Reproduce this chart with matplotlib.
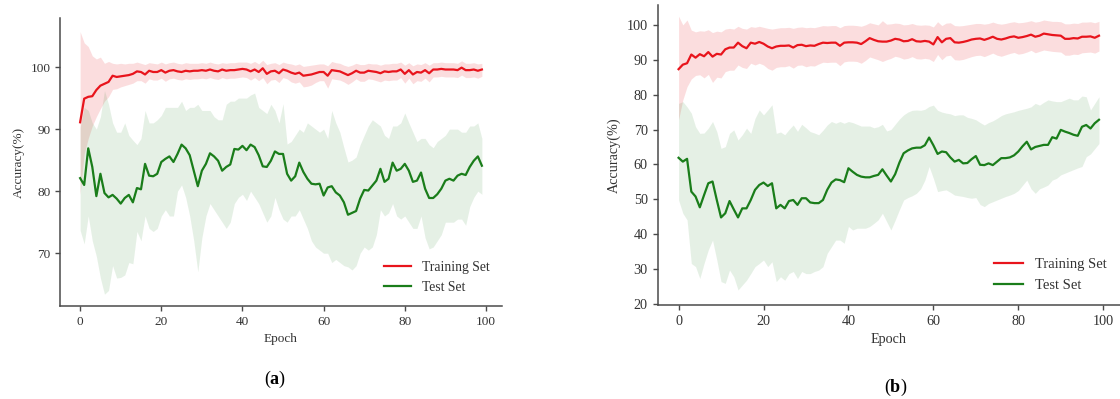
import numpy as np
import matplotlib
matplotlib.use('Agg')
import matplotlib.pyplot as plt

plt.rcParams['font.family'] = ['Liberation Serif', 'DejaVu Serif']
plt.rcParams['mathtext.fontset'] = 'custom'
plt.rcParams['mathtext.rm'] = 'Liberation Serif'
plt.rcParams['mathtext.bf'] = 'Liberation Serif:bold'

epochs = np.arange(100)

# ---- panel (a) ----
train_a = [91.1, 94.9, 95.2, 95.3, 96.3, 97.0, 97.3, 97.6, 98.6, 98.4,
           98.5, 98.6, 98.7, 98.9, 99.3, 99.2, 98.8, 99.4, 99.2, 99.2,
           99.5, 99.1, 99.4, 99.5, 99.3, 99.2, 99.4, 99.3, 99.4, 99.4,
           99.5, 99.4, 99.6, 99.4, 99.3, 99.6, 99.4, 99.5, 99.5, 99.6,
           99.7, 99.6, 99.3, 99.6, 99.2, 99.8, 98.9, 99.3, 99.4, 99.0,
           99.6, 99.4, 99.1, 98.9, 99.1, 98.6, 98.7, 98.8, 99.0, 99.2,
           99.2, 98.6, 99.5, 99.4, 99.3, 99.0, 98.7, 99.0, 99.4, 99.1,
           99.1, 99.4, 99.3, 99.2, 99.0, 99.3, 99.2, 99.3, 99.3, 99.6,
           98.9, 99.5, 98.8, 99.2, 99.1, 99.5, 99.0, 99.6, 99.6, 99.7,
           99.6, 99.6, 99.6, 99.5, 99.9, 99.5, 99.5, 99.6, 99.4, 99.6]
train_a_hi = [105.7, 103.9, 103.3, 101.8, 101.3, 101.6, 100.6, 100.9, 100.6, 100.5,
              100.6, 100.5, 100.6, 100.6, 100.8, 100.6, 100.4, 100.7, 100.6, 100.5,
              100.8, 100.5, 100.7, 100.8, 100.6, 100.5, 100.7, 100.6, 100.6, 100.6,
              100.7, 100.6, 100.8, 100.6, 100.5, 100.7, 100.6, 100.7, 100.7, 100.8,
              100.8, 100.8, 100.6, 100.9, 100.5, 101.1, 100.4, 100.6, 100.7, 100.4,
              100.8, 100.6, 100.5, 100.3, 100.5, 100.1, 100.2, 100.3, 100.4, 100.5,
              100.5, 100.2, 100.9, 100.7, 100.6, 100.3, 100.1, 100.3, 100.6, 100.4,
              100.4, 100.6, 100.5, 100.5, 100.3, 100.5, 100.5, 100.6, 100.6, 100.8,
              100.3, 100.7, 100.2, 100.5, 100.4, 100.7, 100.3, 100.7, 100.7, 100.8,
              100.7, 100.7, 100.7, 100.6, 101.0, 100.6, 100.6, 100.7, 100.5, 100.6]
train_a_lo = [79.5, 86.0, 88.5, 90.5, 92.0, 93.3, 94.5, 95.2, 96.4, 96.5,
              96.8, 97.0, 97.2, 97.4, 97.8, 97.8, 97.4, 98.1, 97.9, 97.9,
              98.2, 97.7, 98.1, 98.2, 98.0, 97.9, 98.1, 98.0, 98.1, 98.1,
              98.2, 98.1, 98.3, 98.1, 98.0, 98.3, 98.1, 98.2, 98.2, 98.3,
              98.4, 98.3, 97.9, 98.3, 97.8, 98.3, 97.3, 97.9, 98.0, 97.5,
              98.3, 98.1, 97.6, 97.4, 97.6, 96.8, 96.9, 97.1, 97.5, 97.8,
              97.8, 96.6, 98.1, 98.0, 97.9, 97.6, 97.2, 97.6, 98.1, 97.7,
              97.7, 98.1, 98.0, 97.8, 97.6, 97.9, 97.8, 97.9, 97.9, 98.3,
              97.4, 98.2, 97.3, 97.8, 97.7, 98.2, 97.6, 98.4, 98.4, 98.5,
              98.4, 98.4, 98.4, 98.3, 98.7, 98.3, 98.3, 98.4, 98.2, 98.5]
test_a = [82.1, 81.0, 86.9, 83.9, 79.2, 82.8, 79.7, 79.0, 79.4, 78.8,
          78.0, 78.9, 79.4, 78.2, 80.5, 80.3, 84.4, 82.5, 82.4, 82.8,
          84.7, 85.2, 85.6, 84.7, 86.0, 87.5, 86.9, 85.8, 83.3, 80.8,
          83.3, 84.4, 86.1, 85.6, 84.9, 83.3, 83.9, 84.3, 86.8, 86.7,
          87.3, 86.6, 87.5, 87.1, 85.8, 84.0, 83.9, 84.9, 86.4, 86.0,
          86.0, 82.8, 81.7, 82.4, 84.6, 83.1, 82.0, 81.2, 81.1, 81.2,
          79.3, 80.6, 80.8, 79.8, 79.3, 78.2, 76.2, 76.5, 76.8, 78.8,
          80.2, 80.1, 80.9, 81.7, 83.6, 81.5, 82.0, 84.6, 83.3, 83.6,
          84.4, 83.3, 81.5, 81.7, 83.0, 80.4, 78.9, 78.9, 79.5, 80.4,
          81.7, 82.0, 81.7, 82.5, 82.8, 82.6, 83.9, 84.9, 85.6, 84.1]
test_a_hi = [90.3, 93.5, 93.0, 91.0, 90.0, 92.0, 96.2, 94.0, 91.0, 89.5,
             89.5, 91.0, 89.0, 88.2, 87.5, 88.5, 93.0, 91.0, 91.0, 91.5,
             92.2, 93.5, 93.5, 93.5, 93.5, 94.5, 93.0, 93.5, 93.5, 94.0,
             93.0, 93.0, 93.0, 92.0, 91.5, 91.5, 94.0, 94.5, 94.5, 95.0,
             95.0, 95.0, 95.5, 95.8, 93.5, 93.0, 92.5, 94.0, 93.0, 91.0,
             94.1, 87.6, 88.0, 89.0, 90.0, 89.5, 91.0, 90.5, 90.0, 89.5,
             90.0, 88.5, 93.0, 91.0, 89.5, 87.0, 84.7, 85.0, 85.5, 87.5,
             89.0, 90.5, 91.5, 91.0, 90.5, 89.0, 88.5, 90.5, 90.5, 91.0,
             92.6, 91.0, 89.5, 88.0, 88.5, 88.5, 87.5, 87.0, 88.0, 88.5,
             89.0, 90.0, 90.0, 90.0, 89.5, 89.5, 90.5, 90.5, 91.0, 88.5]
test_a_lo = [73.7, 71.5, 76.0, 72.0, 69.5, 66.0, 63.4, 64.0, 68.0, 66.0,
             66.1, 66.5, 68.5, 68.3, 73.5, 72.0, 76.0, 74.0, 73.5, 74.0,
             76.0, 77.0, 76.0, 76.0, 80.0, 81.0, 79.0, 76.0, 72.0, 67.0,
             72.5, 76.0, 78.0, 77.0, 76.0, 75.0, 74.0, 75.0, 78.0, 79.0,
             79.5, 78.5, 80.0, 79.0, 78.0, 76.5, 75.0, 76.0, 79.0, 77.0,
             75.5, 75.0, 76.0, 76.0, 77.0, 75.5, 74.0, 72.0, 71.0, 70.5,
             70.0, 70.0, 68.5, 69.0, 68.5, 68.0, 67.8, 67.3, 68.0, 70.0,
             71.0, 70.5, 71.0, 73.0, 77.0, 76.0, 76.5, 78.0, 76.0, 75.5,
             76.0, 75.0, 74.0, 74.0, 76.0, 72.5, 70.7, 71.0, 72.0, 73.0,
             75.0, 75.0, 75.0, 75.5, 75.5, 74.5, 77.5, 79.0, 80.0, 79.5]

# ---- panel (b) ----
train_b = [87.3, 88.6, 89.0, 91.5, 90.6, 91.6, 91.0, 92.2, 90.9, 91.7,
           91.5, 93.0, 93.5, 93.5, 94.9, 93.9, 93.3, 94.9, 94.6, 95.1,
           94.6, 93.8, 93.3, 93.8, 94.0, 94.0, 94.1, 93.5, 94.2, 94.3,
           93.9, 94.1, 94.0, 94.5, 94.9, 94.8, 94.9, 94.9, 94.0, 94.9,
           95.0, 95.0, 94.9, 94.5, 95.3, 96.2, 95.7, 95.3, 95.2, 95.2,
           95.5, 96.0, 95.8, 95.3, 95.4, 95.9, 95.3, 95.2, 95.4, 95.2,
           94.4, 96.5, 95.0, 96.0, 96.2, 95.0, 94.9, 95.1, 95.4, 95.8,
           96.0, 96.1, 95.7, 96.1, 96.6, 96.0, 95.8, 96.1, 96.5, 96.7,
           96.3, 96.5, 96.8, 97.2, 96.6, 96.9, 97.5, 97.3, 97.1, 97.0,
           96.9, 96.0, 96.0, 96.2, 96.1, 96.6, 96.6, 96.7, 96.3, 96.9]
train_b_hi = [102.5, 100.0, 101.4, 98.5, 98.0, 98.3, 98.2, 98.6, 97.8, 98.2,
              98.0, 98.8, 99.0, 98.8, 99.6, 99.0, 98.8, 99.5, 99.3, 99.6,
              99.3, 99.0, 98.8, 99.0, 99.2, 99.2, 99.3, 99.0, 99.3, 99.4,
              99.2, 99.3, 99.2, 99.5, 99.8, 99.7, 99.8, 99.8, 99.2, 99.8,
              99.9, 99.9, 99.8, 99.6, 100.0, 100.6, 100.3, 100.0, 101.2, 100.2,
              100.3, 100.5, 100.4, 100.0, 100.1, 100.4, 100.0, 99.9, 100.0, 99.9,
              99.4, 100.9, 99.8, 100.5, 100.6, 99.8, 99.7, 99.8, 100.0, 100.2,
              100.4, 100.4, 100.2, 100.4, 100.8, 100.4, 100.2, 100.4, 100.7, 100.9,
              100.6, 100.7, 100.9, 101.2, 100.8, 101.0, 101.4, 101.2, 101.0, 101.0,
              100.9, 100.3, 100.3, 100.5, 100.4, 100.8, 100.8, 100.9, 100.6, 101.0]
train_b_lo = [72.8, 78.5, 82.3, 84.5, 85.5, 85.7, 84.8, 85.8, 83.5, 85.0,
              84.8, 86.6, 87.0, 87.0, 88.5, 87.8, 87.5, 89.0, 88.5, 89.0,
              88.5, 87.5, 87.0, 87.8, 88.0, 88.0, 88.3, 87.6, 88.4, 88.5,
              88.0, 88.3, 88.2, 88.8, 89.3, 89.2, 89.3, 89.3, 88.3, 89.4,
              89.6, 89.6, 89.5, 89.0, 89.8, 90.8, 90.4, 90.0, 89.5, 90.0,
              90.4, 91.0, 90.7, 90.2, 90.4, 90.9, 90.3, 90.2, 90.4, 90.2,
              89.5, 91.5, 90.0, 91.1, 91.3, 90.0, 89.9, 90.1, 90.5, 90.9,
              91.2, 91.3, 90.9, 91.4, 91.9, 91.3, 91.0, 91.4, 91.8, 92.1,
              91.6, 91.8, 92.2, 92.7, 92.0, 92.4, 92.8, 92.6, 92.4, 92.3,
              92.2, 91.3, 91.3, 91.6, 91.5, 92.0, 92.1, 92.2, 91.9, 92.5]
test_b = [61.9, 60.8, 61.6, 52.2, 50.8, 47.7, 51.2, 54.6, 55.1, 49.8,
          44.8, 46.0, 49.5, 47.1, 44.8, 47.4, 47.4, 49.8, 52.7, 54.1,
          54.8, 53.8, 54.6, 47.4, 48.4, 47.4, 49.5, 49.8, 48.4, 50.3,
          50.3, 49.1, 48.9, 48.9, 49.8, 52.7, 54.8, 55.7, 55.5, 54.9,
          58.9, 57.9, 57.0, 56.5, 56.3, 56.3, 56.7, 57.0, 58.6, 56.8,
          55.1, 57.2, 60.5, 63.2, 64.0, 64.6, 64.8, 64.8, 65.5, 67.7,
          65.5, 63.0, 63.7, 63.5, 62.0, 60.8, 61.3, 60.3, 60.4, 61.5,
          62.4, 59.9, 59.8, 60.3, 59.8, 60.8, 61.8, 61.8, 62.0, 62.6,
          63.7, 65.2, 66.5, 64.3, 65.0, 65.3, 65.6, 65.6, 67.8, 67.4,
          69.9, 69.4, 69.0, 68.5, 68.2, 70.8, 71.3, 70.3, 71.8, 72.8]
test_b_hi = [77.5, 78.0, 76.5, 74.7, 70.8, 68.9, 69.0, 70.4, 72.3, 69.4,
             64.6, 65.1, 68.9, 69.9, 67.0, 68.5, 70.4, 68.9, 73.2, 75.6,
             74.2, 75.6, 77.1, 68.9, 69.3, 68.5, 70.0, 71.3, 69.5, 71.5,
             70.5, 69.4, 69.0, 68.5, 69.8, 71.3, 72.3, 71.8, 72.3, 71.8,
             72.3, 72.0, 71.5, 71.0, 71.0, 71.0, 70.5, 70.8, 71.5, 69.6,
             70.0, 71.5, 73.0, 74.2, 75.0, 75.5, 75.6, 75.5, 75.8, 76.6,
             77.0, 75.5, 75.0, 74.7, 74.5, 74.0, 74.2, 74.2, 73.5, 73.2,
             72.8, 72.0, 71.3, 72.0, 72.5, 73.2, 74.0, 74.5, 74.8, 75.1,
             75.5, 75.8, 76.1, 76.5, 77.5, 77.0, 77.8, 78.5, 78.2, 78.0,
             78.0, 78.5, 79.0, 78.5, 78.5, 79.6, 79.4, 75.6, 77.5, 79.4]
test_b_lo = [49.8, 46.0, 44.1, 31.6, 30.7, 27.3, 31.6, 35.5, 38.3, 32.6,
             26.4, 25.9, 29.7, 27.8, 24.0, 25.4, 26.8, 28.7, 30.7, 31.6,
             32.6, 30.7, 32.1, 26.4, 27.8, 26.8, 28.7, 29.3, 27.3, 29.3,
             28.7, 28.7, 29.3, 29.7, 30.7, 34.5, 36.4, 38.3, 38.3, 37.4,
             42.2, 41.2, 41.7, 41.7, 41.7, 42.2, 43.1, 44.1, 46.0, 43.6,
             41.2, 44.0, 47.0, 49.8, 50.5, 51.0, 51.7, 53.0, 55.5, 59.4,
             56.0, 52.2, 52.5, 52.7, 52.0, 51.2, 51.0, 50.8, 50.5, 50.3,
             50.5, 48.5, 47.9, 48.8, 49.3, 49.8, 50.3, 50.8, 51.2, 51.7,
             52.5, 54.0, 55.5, 53.0, 51.7, 53.0, 53.5, 54.1, 55.5, 56.0,
             57.0, 57.5, 58.0, 58.5, 59.0, 59.4, 62.2, 63.0, 64.5, 66.0]

red = '#e8141c'
green = '#1a7d1a'

fig = plt.figure(figsize=(11.2, 3.99), dpi=100)
ax_a = fig.add_axes([0.0536, 0.2331, 0.3946, 0.7218])
ax_b = fig.add_axes([0.5871, 0.2356, 0.4129, 0.7519])

panels = [
    (ax_a, train_a, train_a_lo, train_a_hi, test_a, test_a_lo, test_a_hi,
     (61.5, 107.9), [70, 80, 90, 100], 9.5),
    (ax_b, train_b, train_b_lo, train_b_hi, test_b, test_b_lo, test_b_hi,
     (19.7, 105.7), list(range(20, 101, 10)), 10.2),
]

for ax, tr, tr_lo, tr_hi, te, te_lo, te_hi, ylim, yticks, fs in panels:
    ax.fill_between(epochs, tr_lo, tr_hi, color=red, alpha=0.14, linewidth=0)
    ax.fill_between(epochs, te_lo, te_hi, color=green, alpha=0.11, linewidth=0)
    ax.plot(epochs, tr, color=red, lw=1.6, label='Training Set')
    ax.plot(epochs, te, color=green, lw=1.6, label='Test Set')
    ax.set_xlim(-4.95, 103.95)
    ax.set_ylim(*ylim)
    ax.set_xticks([0, 20, 40, 60, 80, 100])
    ax.set_yticks(yticks)
    for s in ['top', 'right']:
        ax.spines[s].set_visible(False)
    for s in ['left', 'bottom']:
        ax.spines[s].set_color('#4a4a4a')
        ax.spines[s].set_linewidth(1.1)
    ax.tick_params(colors='#4a4a4a', labelcolor='#333333', labelsize=fs,
                   length=3.5, width=1)
    ax.set_xlabel('Epoch', fontsize=fs, color='#333333')
    ax.set_ylabel('Accuracy(%)', fontsize=fs, color='#333333')
    ax.legend(loc='lower right', frameon=False, fontsize=fs + 0.3,
              labelcolor='#333333')

fig.text(0.2455, 0.048, r'($\mathbf{a}$)', fontsize=13, ha='center', va='center')
fig.text(0.800, 0.028, r'($\mathbf{b}$)', fontsize=13, ha='center', va='center')

fig.savefig('out.png', dpi=100)
